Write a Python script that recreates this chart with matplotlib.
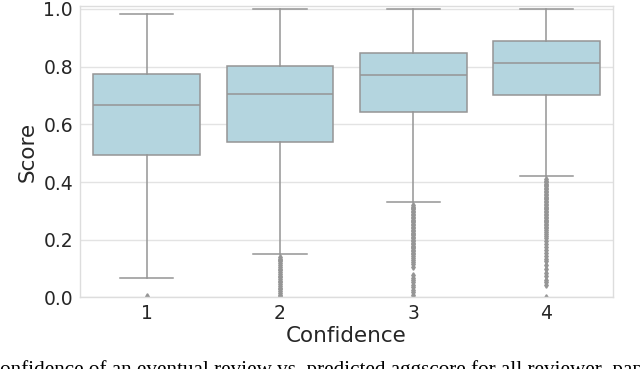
import matplotlib
matplotlib.use("Agg")
import matplotlib.pyplot as plt

# values
labels = ["1", "2", "3", "4"]
medians = [0.666, 0.704, 0.771, 0.814]
q1 = [0.493, 0.539, 0.642, 0.702]
q3 = [0.773, 0.801, 0.848, 0.889]
whislo = [0.068, 0.149, 0.330, 0.422]
whishi = [0.984, 1.0, 1.0, 1.0]

fliers_1 = [0.004]
fliers_2 = [0.14, 0.135, 0.13, 0.125, 0.12, 0.113, 0.107, 0.10, 0.094, 0.088,
            0.082, 0.076, 0.07, 0.064, 0.058, 0.052, 0.046, 0.04, 0.034,
            0.028, 0.022, 0.016, 0.01, 0.004]
fliers_3 = [0.32, 0.315, 0.31, 0.305, 0.30, 0.295, 0.29, 0.285, 0.28, 0.275,
            0.27, 0.265, 0.26, 0.255, 0.25, 0.245, 0.24, 0.235, 0.23, 0.225,
            0.22, 0.215, 0.21, 0.205, 0.20, 0.195, 0.19, 0.185, 0.18, 0.175,
            0.17, 0.165, 0.16, 0.155, 0.15, 0.145, 0.138, 0.13, 0.122, 0.115,
            0.107, 0.077, 0.068, 0.06, 0.052, 0.043, 0.035, 0.027, 0.018,
            0.01, 0.003]
fliers_4 = [0.41, 0.405, 0.40, 0.395, 0.39, 0.385, 0.38, 0.375, 0.37, 0.365,
            0.36, 0.355, 0.35, 0.345, 0.34, 0.335, 0.33, 0.325, 0.32, 0.315,
            0.31, 0.305, 0.30, 0.295, 0.29, 0.285, 0.28, 0.275, 0.27, 0.265,
            0.26, 0.255, 0.25, 0.245, 0.24, 0.235, 0.228, 0.22, 0.212, 0.205,
            0.195, 0.185, 0.175, 0.165, 0.155, 0.145, 0.135, 0.125, 0.112,
            0.10, 0.085, 0.075, 0.062, 0.052, 0.045, 0.003]
fliers = [fliers_1, fliers_2, fliers_3, fliers_4]

box_color = "#b4d5df"
line_color = "#959595"

stats = []
for i in range(len(labels)):
    stats.append({"med": medians[i], "q1": q1[i], "q3": q3[i],
                  "whislo": whislo[i], "whishi": whishi[i],
                  "fliers": fliers[i], "label": labels[i]})

fig = plt.figure(figsize=(6.4, 3.69), dpi=100)
ax = fig.add_axes([0.125, 0.1938, 0.833, 0.7908])

ax.set_axisbelow(True)
ax.grid(True, axis="y", color="#e3e3e3", linewidth=1.0)

ax.bxp(stats, positions=range(len(labels)), widths=0.8, capwidths=0.4,
       patch_artist=True,
       boxprops=dict(facecolor=box_color, edgecolor=line_color, linewidth=1.1),
       medianprops=dict(color=line_color, linewidth=1.1),
       whiskerprops=dict(color=line_color, linewidth=1.1),
       capprops=dict(color=line_color, linewidth=1.1),
       flierprops=dict(marker="d", markersize=2.8, markerfacecolor=line_color,
                       markeredgecolor=line_color, linestyle="none"))

ax.set_xlim(-0.5, 3.5)
ax.set_ylim(0, 1.0114)
ax.set_yticks([0.0, 0.2, 0.4, 0.6, 0.8, 1.0])
ax.set_xticks(range(len(labels)))
ax.set_xticklabels(labels)
ax.tick_params(axis="both", length=0, labelsize=13.5, labelcolor="#262626", pad=5)
for s in ax.spines.values():
    s.set_color("#dddddd")
    s.set_linewidth(1.0)

ax.set_xlabel("Confidence", fontsize=15.5, color="#262626", labelpad=2)
ax.set_ylabel("Score", fontsize=15.5, color="#262626", labelpad=4)

# caption of the source figure, cut by the picture's edges
fig.text(-0.022, -0.016,
         "Confidence of an eventual review vs. predicted aggscore for all reviewer\u2013paper pairs.",
         family="Liberation Serif", fontsize=15.2, color="black", ha="left", va="baseline")

fig.savefig("out.png", dpi=100)
